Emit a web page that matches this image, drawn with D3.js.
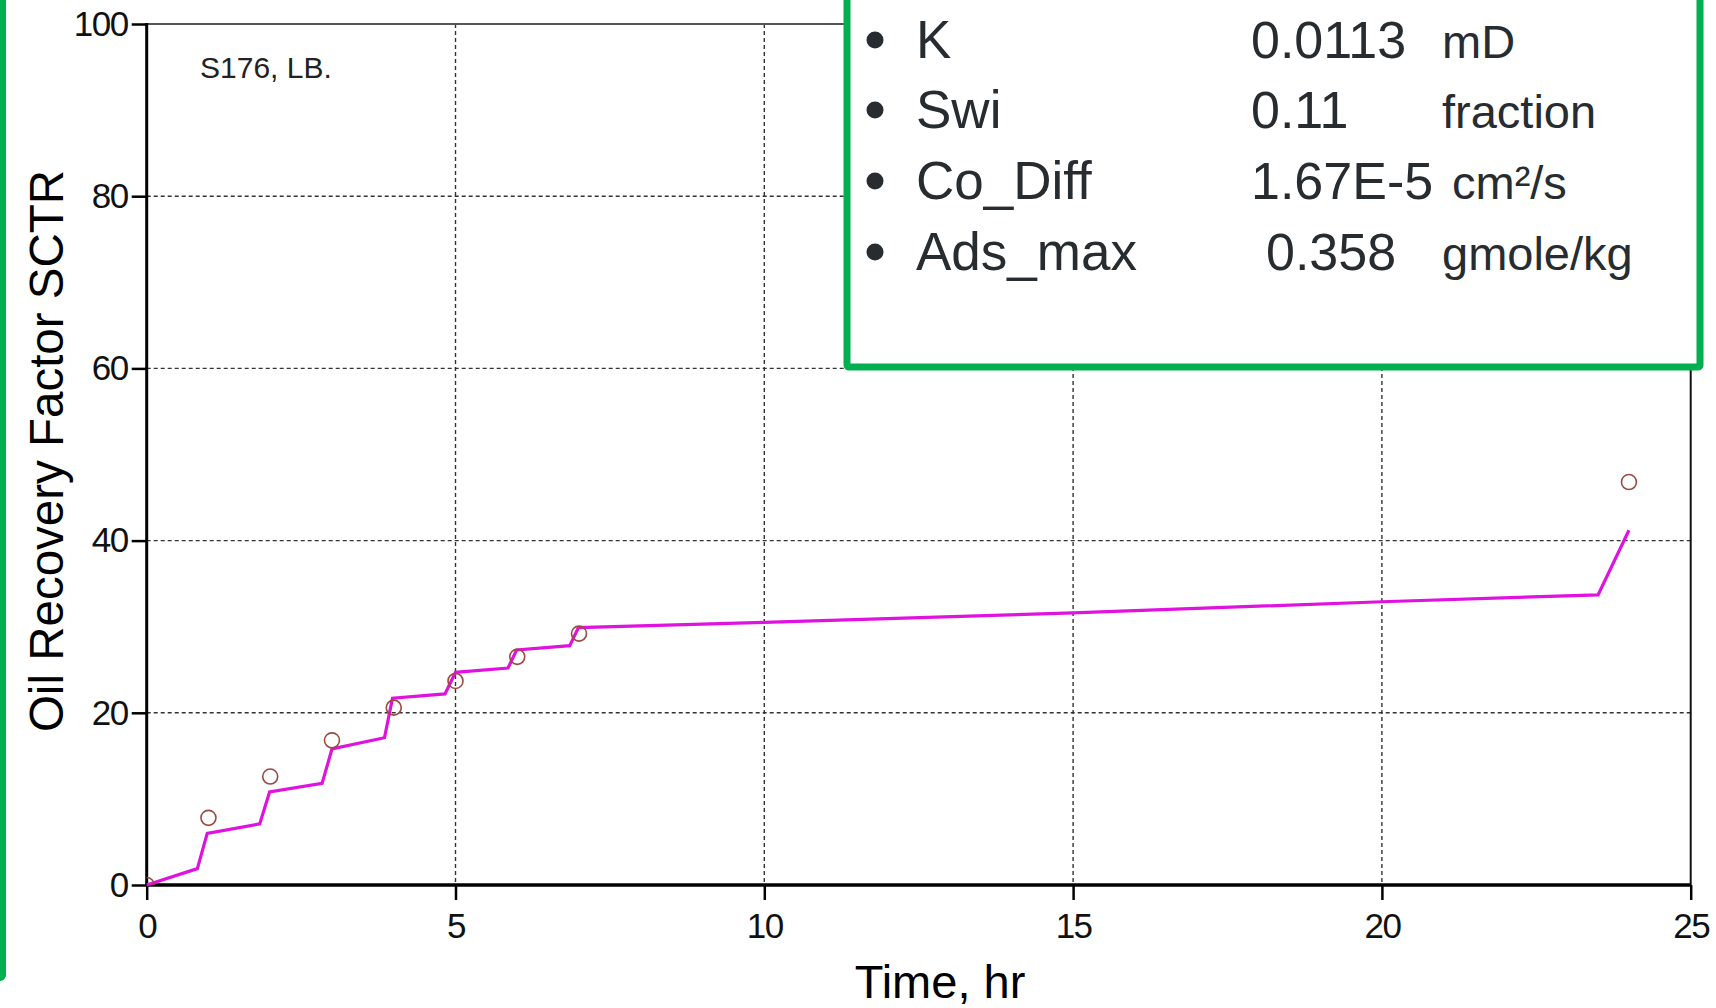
<!DOCTYPE html>
<html>
<head>
<meta charset="utf-8">
<script src="https://cdn.jsdelivr.net/npm/d3@7"></script>
<style>
  html, body { margin: 0; padding: 0; background: #fff; }
  svg { display: block; font-family: "Liberation Sans", Arial, sans-serif; }
</style>
</head>
<body>
<svg id="chart" width="1716" height="1008"></svg>
<script>
// ---- data ----
const xTicks = [0, 5, 10, 15, 20, 25];
const yTicks = [0, 20, 40, 60, 80, 100];
// simulated recovery (line)
const simTime = [0, 0.82, 0.98, 1.83, 1.99, 2.84, 3.0, 3.85, 3.98, 4.83, 5.0, 5.85, 5.99, 6.85, 6.99, 10, 15, 20, 23.5, 24];
const simRF   = [0, 1.9, 6.0, 7.1, 10.8, 11.8, 15.8, 17.1, 21.7, 22.2, 24.7, 25.2, 27.3, 27.8, 29.9, 30.5, 31.6, 32.9, 33.7, 41.2];
// measured recovery (circles)
const obsTime = [0, 1, 2, 3, 4, 5, 6, 7, 24];
const obsRF   = [0, 7.8, 12.6, 16.8, 20.6, 23.7, 26.5, 29.2, 46.8];
// parameter box
const paramNames  = ["K", "Swi", "Co_Diff", "Ads_max"];
const paramValues = ["0.0113", "0.11", "1.67E-5", "0.358"];
const paramUnits  = ["mD", "fraction", "cm²/s", "gmole/kg"];
const sampleLabel = "S176, LB.";
const xTitle = "Time, hr";
const yTitle = "Oil Recovery Factor SCTR";

// ---- layout ----
const L = 146.7, R = 1690.7, T = 24, B = 885;
const svg = d3.select("#chart");
const x = d3.scaleLinear().domain([0, 25]).range([L, R]);
const y = d3.scaleLinear().domain([0, 100]).range([B, T]);

svg.append("rect").attr("width", 1716).attr("height", 1008).attr("fill", "#fff");

svg.append("defs").append("clipPath").attr("id", "plotclip")
  .append("rect").attr("x", L).attr("y", T).attr("width", R - L).attr("height", B - T);

// grid
const grid = svg.append("g");
grid.selectAll("line.h").data(yTicks.filter(d => d > 0 && d < 100)).join("line")
  .attr("x1", L).attr("x2", R).attr("y1", d => y(d)).attr("y2", d => y(d))
  .attr("stroke", "#333").attr("stroke-width", 1.4).attr("stroke-dasharray", "4,3");
grid.selectAll("line.v").data(xTicks.filter(d => d > 0 && d < 25)).join("line")
  .attr("y1", T).attr("y2", B).attr("x1", d => x(d)).attr("x2", d => x(d))
  .attr("stroke", "#333").attr("stroke-width", 1.4).attr("stroke-dasharray", "4,3");

// frame
svg.append("line").attr("x1", L).attr("x2", R).attr("y1", T).attr("y2", T)
  .attr("stroke", "#555").attr("stroke-width", 2);
svg.append("line").attr("x1", R).attr("x2", R).attr("y1", T).attr("y2", B)
  .attr("stroke", "#111").attr("stroke-width", 2);

// axes
const yAxis = svg.append("g").attr("transform", `translate(${L},0)`)
  .call(d3.axisLeft(y).tickValues(yTicks).tickSize(15).tickPadding(4));
const xAxis = svg.append("g").attr("transform", `translate(0,${B})`)
  .call(d3.axisBottom(x).tickValues(xTicks).tickSize(15).tickPadding(13));
[yAxis, xAxis].forEach(a => {
  a.select(".domain").remove();
  a.selectAll(".tick line").attr("stroke", "#000").attr("stroke-width", 2.5);
  a.selectAll(".tick text").attr("fill", "#111")
    .style("font-family", '"Liberation Sans", Arial, sans-serif')
    .style("font-size", "35px").style("letter-spacing", "-1.5px");
});
svg.append("line").attr("x1", L).attr("x2", L).attr("y1", T - 1).attr("y2", B + 1)
  .attr("stroke", "#000").attr("stroke-width", 3);
svg.append("line").attr("x1", L - 1).attr("x2", R).attr("y1", B).attr("y2", B)
  .attr("stroke", "#000").attr("stroke-width", 3.5);

// simulated line
const simData = simTime.map((t, i) => [t, simRF[i]]);
svg.append("path").datum(simData)
  .attr("d", d3.line().x(d => x(d[0])).y(d => y(d[1])))
  .attr("fill", "none").attr("stroke", "#df12df").attr("stroke-width", 3.2)
  .attr("stroke-linejoin", "miter");

// observed markers
svg.append("g").attr("clip-path", "url(#plotclip)")
  .selectAll("circle").data(obsTime.map((t, i) => [t, obsRF[i]])).join("circle")
  .attr("cx", d => x(d[0])).attr("cy", d => y(d[1])).attr("r", 7.5)
  .attr("fill", "none").attr("stroke", "#9a4a42").attr("stroke-width", 1.6);

// sample label
svg.append("text").attr("x", 200).attr("y", 78).text(sampleLabel)
  .attr("font-size", 30).attr("fill", "#222");

// axis titles
svg.append("text").attr("x", 940).attr("y", 998).attr("text-anchor", "middle")
  .attr("font-size", 47).attr("fill", "#000").text(xTitle);
svg.append("text").attr("transform", "translate(63,451) rotate(-90)")
  .attr("text-anchor", "middle").attr("font-size", 47.5).attr("fill", "#000").text(yTitle);

// green left border
svg.append("rect").attr("x", -20).attr("y", -20).attr("width", 23).attr("height", 998)
  .attr("rx", 3).attr("fill", "none").attr("stroke", "#00b050").attr("stroke-width", 6);

// parameter box
svg.append("rect").attr("x", 847).attr("y", -20).attr("width", 853).attr("height", 387)
  .attr("rx", 2).attr("fill", "#fff").attr("stroke", "#00b050").attr("stroke-width", 7);
const rowY = [58, 128, 199, 270];
const box = svg.append("g").attr("fill", "#272c30");
box.selectAll("circle").data(paramNames).join("circle")
  .attr("cx", 875).attr("cy", (d, i) => rowY[i] - 18).attr("r", 8.5);
box.selectAll("text.name").data(paramNames).join("text").attr("class", "name")
  .attr("x", 916).attr("y", (d, i) => rowY[i]).attr("font-size", 53).text(d => d);
box.selectAll("text.val").data(paramValues).join("text").attr("class", "val")
  .attr("x", (d, i) => i === 3 ? 1266 : 1251).attr("y", (d, i) => rowY[i])
  .attr("font-size", 52).text(d => d);
box.selectAll("text.unit").data(paramUnits).join("text").attr("class", "unit")
  .attr("x", (d, i) => i === 2 ? 1452 : 1442).attr("y", (d, i) => rowY[i])
  .attr("font-size", 47).text(d => d);
</script>
</body>
</html>
